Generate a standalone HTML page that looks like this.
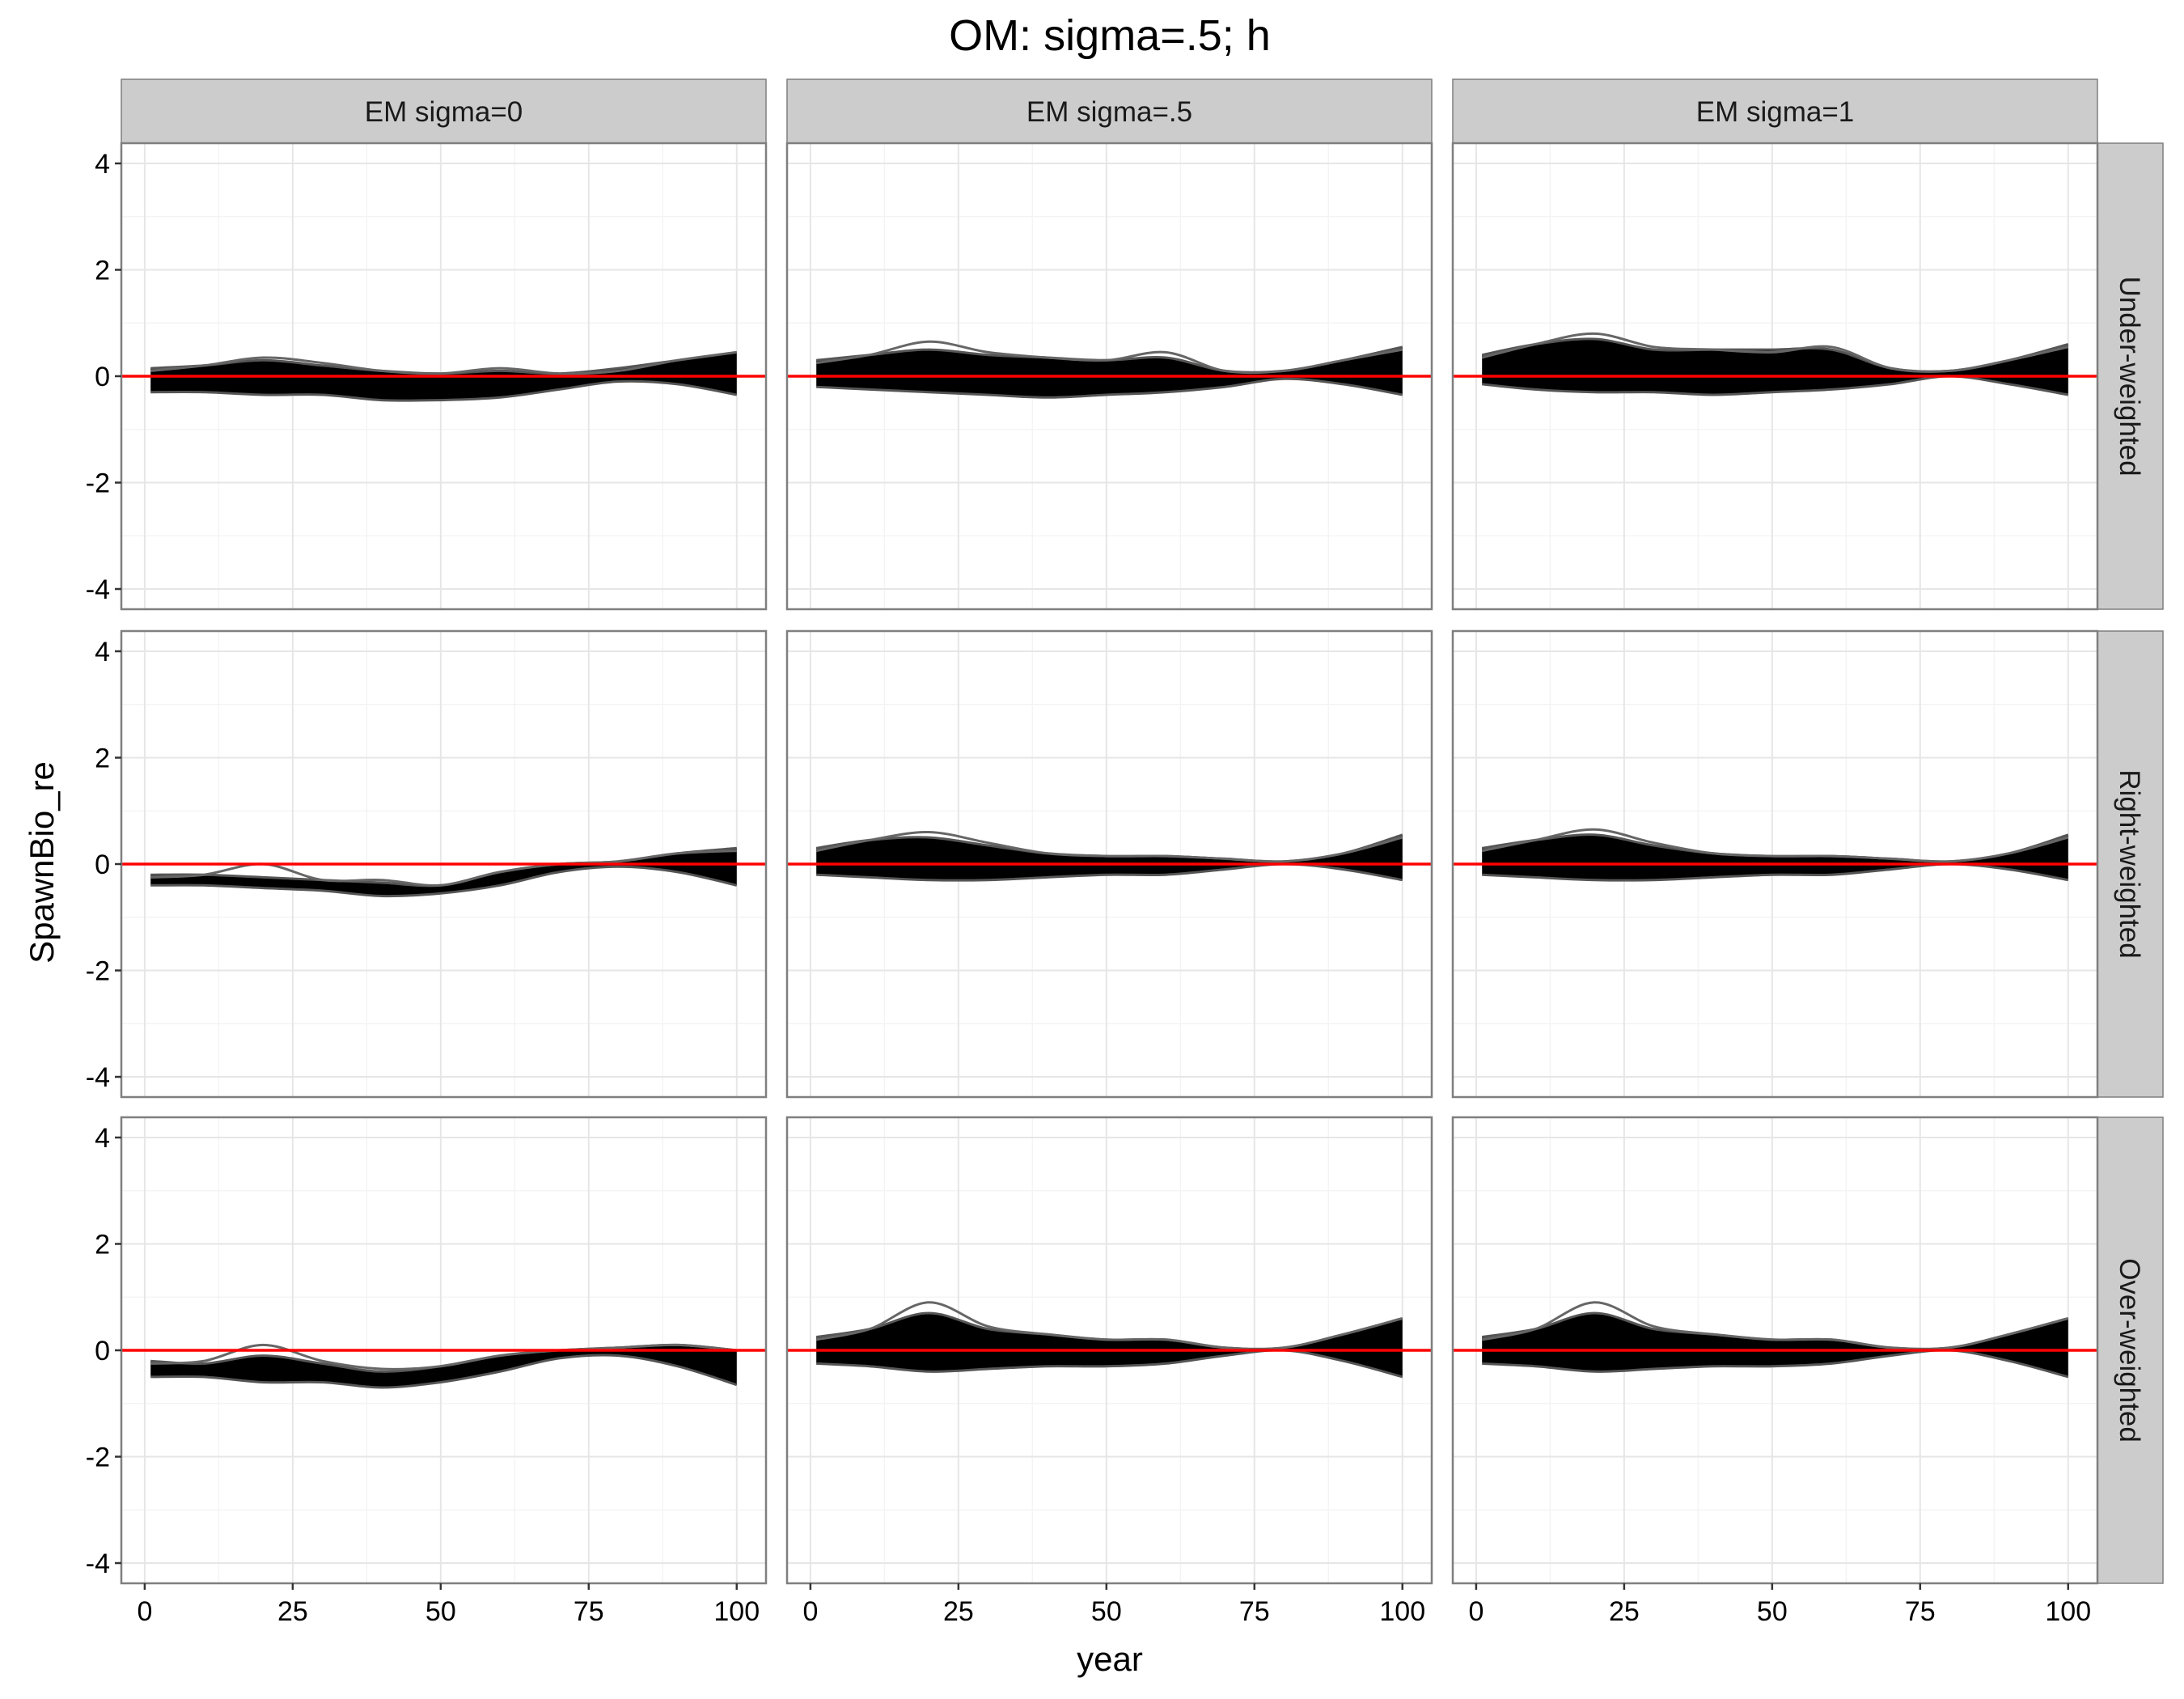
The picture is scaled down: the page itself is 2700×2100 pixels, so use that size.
<!DOCTYPE html>
<html><head><meta charset="utf-8"><style>
html,body{margin:0;padding:0;background:#fff;}
svg{display:block;font-family:"Liberation Sans",sans-serif;}
</style></head><body>
<svg id="chart" width="2700" height="2100" viewBox="0 0 2700 2100" xmlns="http://www.w3.org/2000/svg">
<text x="1372" y="62" font-size="54" text-anchor="middle" fill="#000">OM: sigma=.5; h</text>
<text transform="translate(66,1066) rotate(-90)" font-size="42" text-anchor="middle" fill="#000">SpawnBio_re</text>
<text x="1372" y="2065" font-size="42" text-anchor="middle" fill="#000">year</text>
</svg>
<script>
const colLabels = ["EM sigma=0","EM sigma=.5","EM sigma=1"];
const rowLabels = ["Under-weighted","Right-weighted","Over-weighted"];
const knotYears = [1,10,20,30,40,50,60,70,80,90,100];
const xTicks = [0,25,50,75,100];
const yTicks = [-4,-2,0,2,4];
const upperEnv = [
 [0.15,0.2,0.3,0.2,0.1,0.05,0.1,0.05,0.15,0.3,0.45],
 [0.3,0.4,0.5,0.4,0.35,0.3,0.35,0.1,0.1,0.3,0.55],
 [0.4,0.6,0.7,0.5,0.5,0.5,0.5,0.15,0.1,0.3,0.6],
 [-0.2,-0.2,-0.25,-0.3,-0.35,-0.4,-0.15,0,0.05,0.2,0.3],
 [0.3,0.45,0.5,0.35,0.2,0.15,0.15,0.1,0.05,0.2,0.55],
 [0.3,0.45,0.55,0.35,0.2,0.15,0.15,0.1,0.05,0.2,0.55],
 [-0.2,-0.25,-0.1,-0.25,-0.4,-0.3,-0.1,0,0.05,0.1,0],
 [0.25,0.4,0.7,0.4,0.3,0.2,0.2,0.05,0.05,0.3,0.6],
 [0.25,0.4,0.7,0.4,0.3,0.2,0.2,0.05,0.05,0.3,0.6]
];
const lowerEnv = [
 [-0.3,-0.3,-0.35,-0.35,-0.45,-0.45,-0.4,-0.25,-0.1,-0.15,-0.35],
 [-0.2,-0.25,-0.3,-0.35,-0.4,-0.35,-0.3,-0.2,-0.05,-0.15,-0.35],
 [-0.15,-0.25,-0.3,-0.3,-0.35,-0.3,-0.25,-0.15,0.0,-0.15,-0.35],
 [-0.4,-0.4,-0.45,-0.5,-0.6,-0.55,-0.4,-0.15,-0.05,-0.15,-0.4],
 [-0.2,-0.25,-0.3,-0.3,-0.25,-0.2,-0.2,-0.1,0,-0.1,-0.3],
 [-0.2,-0.25,-0.3,-0.3,-0.25,-0.2,-0.2,-0.1,0,-0.1,-0.3],
 [-0.5,-0.5,-0.6,-0.6,-0.7,-0.6,-0.4,-0.15,-0.1,-0.3,-0.65],
 [-0.25,-0.3,-0.4,-0.35,-0.3,-0.3,-0.25,-0.1,0,-0.2,-0.5],
 [-0.25,-0.3,-0.4,-0.35,-0.3,-0.3,-0.25,-0.1,0,-0.2,-0.5]
];
const outlierLine = [
 [0.1,0.2,0.35,0.25,0.1,0.05,0.15,0.05,0.1,0.3,0.45],
 [0.25,0.4,0.65,0.45,0.35,0.3,0.45,0.1,0.1,0.3,0.5],
 [0.35,0.6,0.8,0.55,0.5,0.45,0.55,0.15,0.1,0.3,0.55],
 [-0.25,-0.2,0.0,-0.3,-0.3,-0.4,-0.15,0,0.05,0.2,0.25],
 [0.25,0.45,0.6,0.4,0.2,0.15,0.15,0.1,0.05,0.2,0.5],
 [0.25,0.45,0.65,0.4,0.2,0.15,0.15,0.1,0.05,0.2,0.5],
 [-0.25,-0.2,0.1,-0.2,-0.35,-0.3,-0.1,0,0.05,0.1,0],
 [0.2,0.4,0.9,0.45,0.3,0.2,0.2,0.05,0.05,0.3,0.6],
 [0.2,0.4,0.9,0.45,0.3,0.2,0.2,0.05,0.05,0.3,0.6]
];
const NS="http://www.w3.org/2000/svg";
const svg=document.getElementById('chart');
const colX=[150,973,1796], pw=797, rowY=[177,780,1381], ph=576;
const xMin=-3.95,xMax=104.95,yMin=-4.38,yMax=4.38;
function mk(t,a,p){const e=document.createElementNS(NS,t);for(const k in a)e.setAttribute(k,a[k]);(p||svg).appendChild(e);return e;}
function smooth(P,start){
  let d=(start?'M':'L')+P[0][0].toFixed(1)+','+P[0][1].toFixed(1);
  for(let i=0;i<P.length-1;i++){
    const p0=P[Math.max(i-1,0)],p1=P[i],p2=P[i+1],p3=P[Math.min(i+2,P.length-1)];
    const c1=[p1[0]+(p2[0]-p0[0])/6,p1[1]+(p2[1]-p0[1])/6];
    const c2=[p2[0]-(p3[0]-p1[0])/6,p2[1]-(p3[1]-p1[1])/6];
    d+=' C'+c1[0].toFixed(1)+','+c1[1].toFixed(1)+' '+c2[0].toFixed(1)+','+c2[1].toFixed(1)+' '+p2[0].toFixed(1)+','+p2[1].toFixed(1);
  }
  return d;
}
function toPts(xs,ys,sx,sy){return xs.map((x,i)=>[sx(x),sy(ys[i])]);}
colLabels.forEach((c,ci)=>{
  const s=mk('rect',{x:colX[ci],y:98,width:pw,height:79,fill:'#cccccc',stroke:'#7f7f7f','stroke-width':1.5});
  
  
  const t=mk('text',{x:colX[ci]+pw/2,y:150,'font-size':35,'text-anchor':'middle',fill:'#1a1a1a'});
  
  
  t.textContent=c;
});
rowLabels.forEach((r,ri)=>{
  const s=mk('rect',{x:2593,y:rowY[ri],width:81,height:ph,fill:'#cccccc',stroke:'#7f7f7f','stroke-width':1.5});
  
  
  const t=mk('text',{transform:`translate(2621,${rowY[ri]+ph/2}) rotate(90)`,'font-size':35,'text-anchor':'middle',fill:'#1a1a1a'});
  
  
  t.textContent=r;
});
for(let ri=0;ri<3;ri++)for(let ci=0;ci<3;ci++){
  const x0=colX[ci],y0=rowY[ri],idx=ri*3+ci;
  const sx=v=>x0+(v-xMin)/(xMax-xMin)*pw;
  const sy=v=>y0+(yMax-v)/(yMax-yMin)*ph;
  const g=mk('g',{});
  
  
  mk('rect',{x:x0,y:y0,width:pw,height:ph,fill:'#fff'},g);
  for(let k=0;k<4;k++){const v=12.5+25*k;mk('line',{x1:sx(v),x2:sx(v),y1:y0,y2:y0+ph,stroke:'#f4f4f4','stroke-width':1.5},g);}
  [-3,-1,1,3].forEach(v=>mk('line',{x1:x0,x2:x0+pw,y1:sy(v),y2:sy(v),stroke:'#f4f4f4','stroke-width':1.5},g));
  xTicks.forEach(v=>mk('line',{x1:sx(v),x2:sx(v),y1:y0,y2:y0+ph,stroke:'#e6e6e6','stroke-width':2},g));
  yTicks.forEach(v=>mk('line',{x1:x0,x2:x0+pw,y1:sy(v),y2:sy(v),stroke:'#e6e6e6','stroke-width':2},g));
  const up=toPts(knotYears,upperEnv[idx],sx,sy), lo=toPts(knotYears,lowerEnv[idx],sx,sy);
  const d=smooth(up,true)+' '+smooth(lo.slice().reverse(),false)+' Z';
  const band=mk('path',{d:d,fill:'#000'},g);
  
  
  [up,lo].forEach(e=>{const l=mk('path',{d:smooth(e,true),fill:'none',stroke:'#555','stroke-width':3},g);
    
    });
  const o=mk('path',{d:smooth(toPts(knotYears,outlierLine[idx],sx,sy),true),fill:'none',stroke:'#666','stroke-width':3},g);
  
  
  const rl=mk('line',{x1:x0,x2:x0+pw,y1:sy(0),y2:sy(0),stroke:'#ff0000','stroke-width':3.5},g);
  
  
  mk('rect',{x:x0,y:y0,width:pw,height:ph,fill:'none',stroke:'#7f7f7f','stroke-width':2.5},g);
  if(ci===0){yTicks.forEach(v=>{
    mk('line',{x1:x0-8,x2:x0,y1:sy(v),y2:sy(v),stroke:'#333','stroke-width':2.5});
    const t=mk('text',{x:x0-14,y:sy(v)+12,'font-size':34,'text-anchor':'end',fill:'#000'});
    
    
    t.textContent=v;});}
  if(ri===2){xTicks.forEach(v=>{
    mk('line',{x1:sx(v),x2:sx(v),y1:y0+ph,y2:y0+ph+8,stroke:'#333','stroke-width':2.5});
    const t=mk('text',{x:sx(v),y:y0+ph+46,'font-size':34,'text-anchor':'middle',fill:'#000'});
    
    
    t.textContent=v;});}
}
</script>
</body></html>
